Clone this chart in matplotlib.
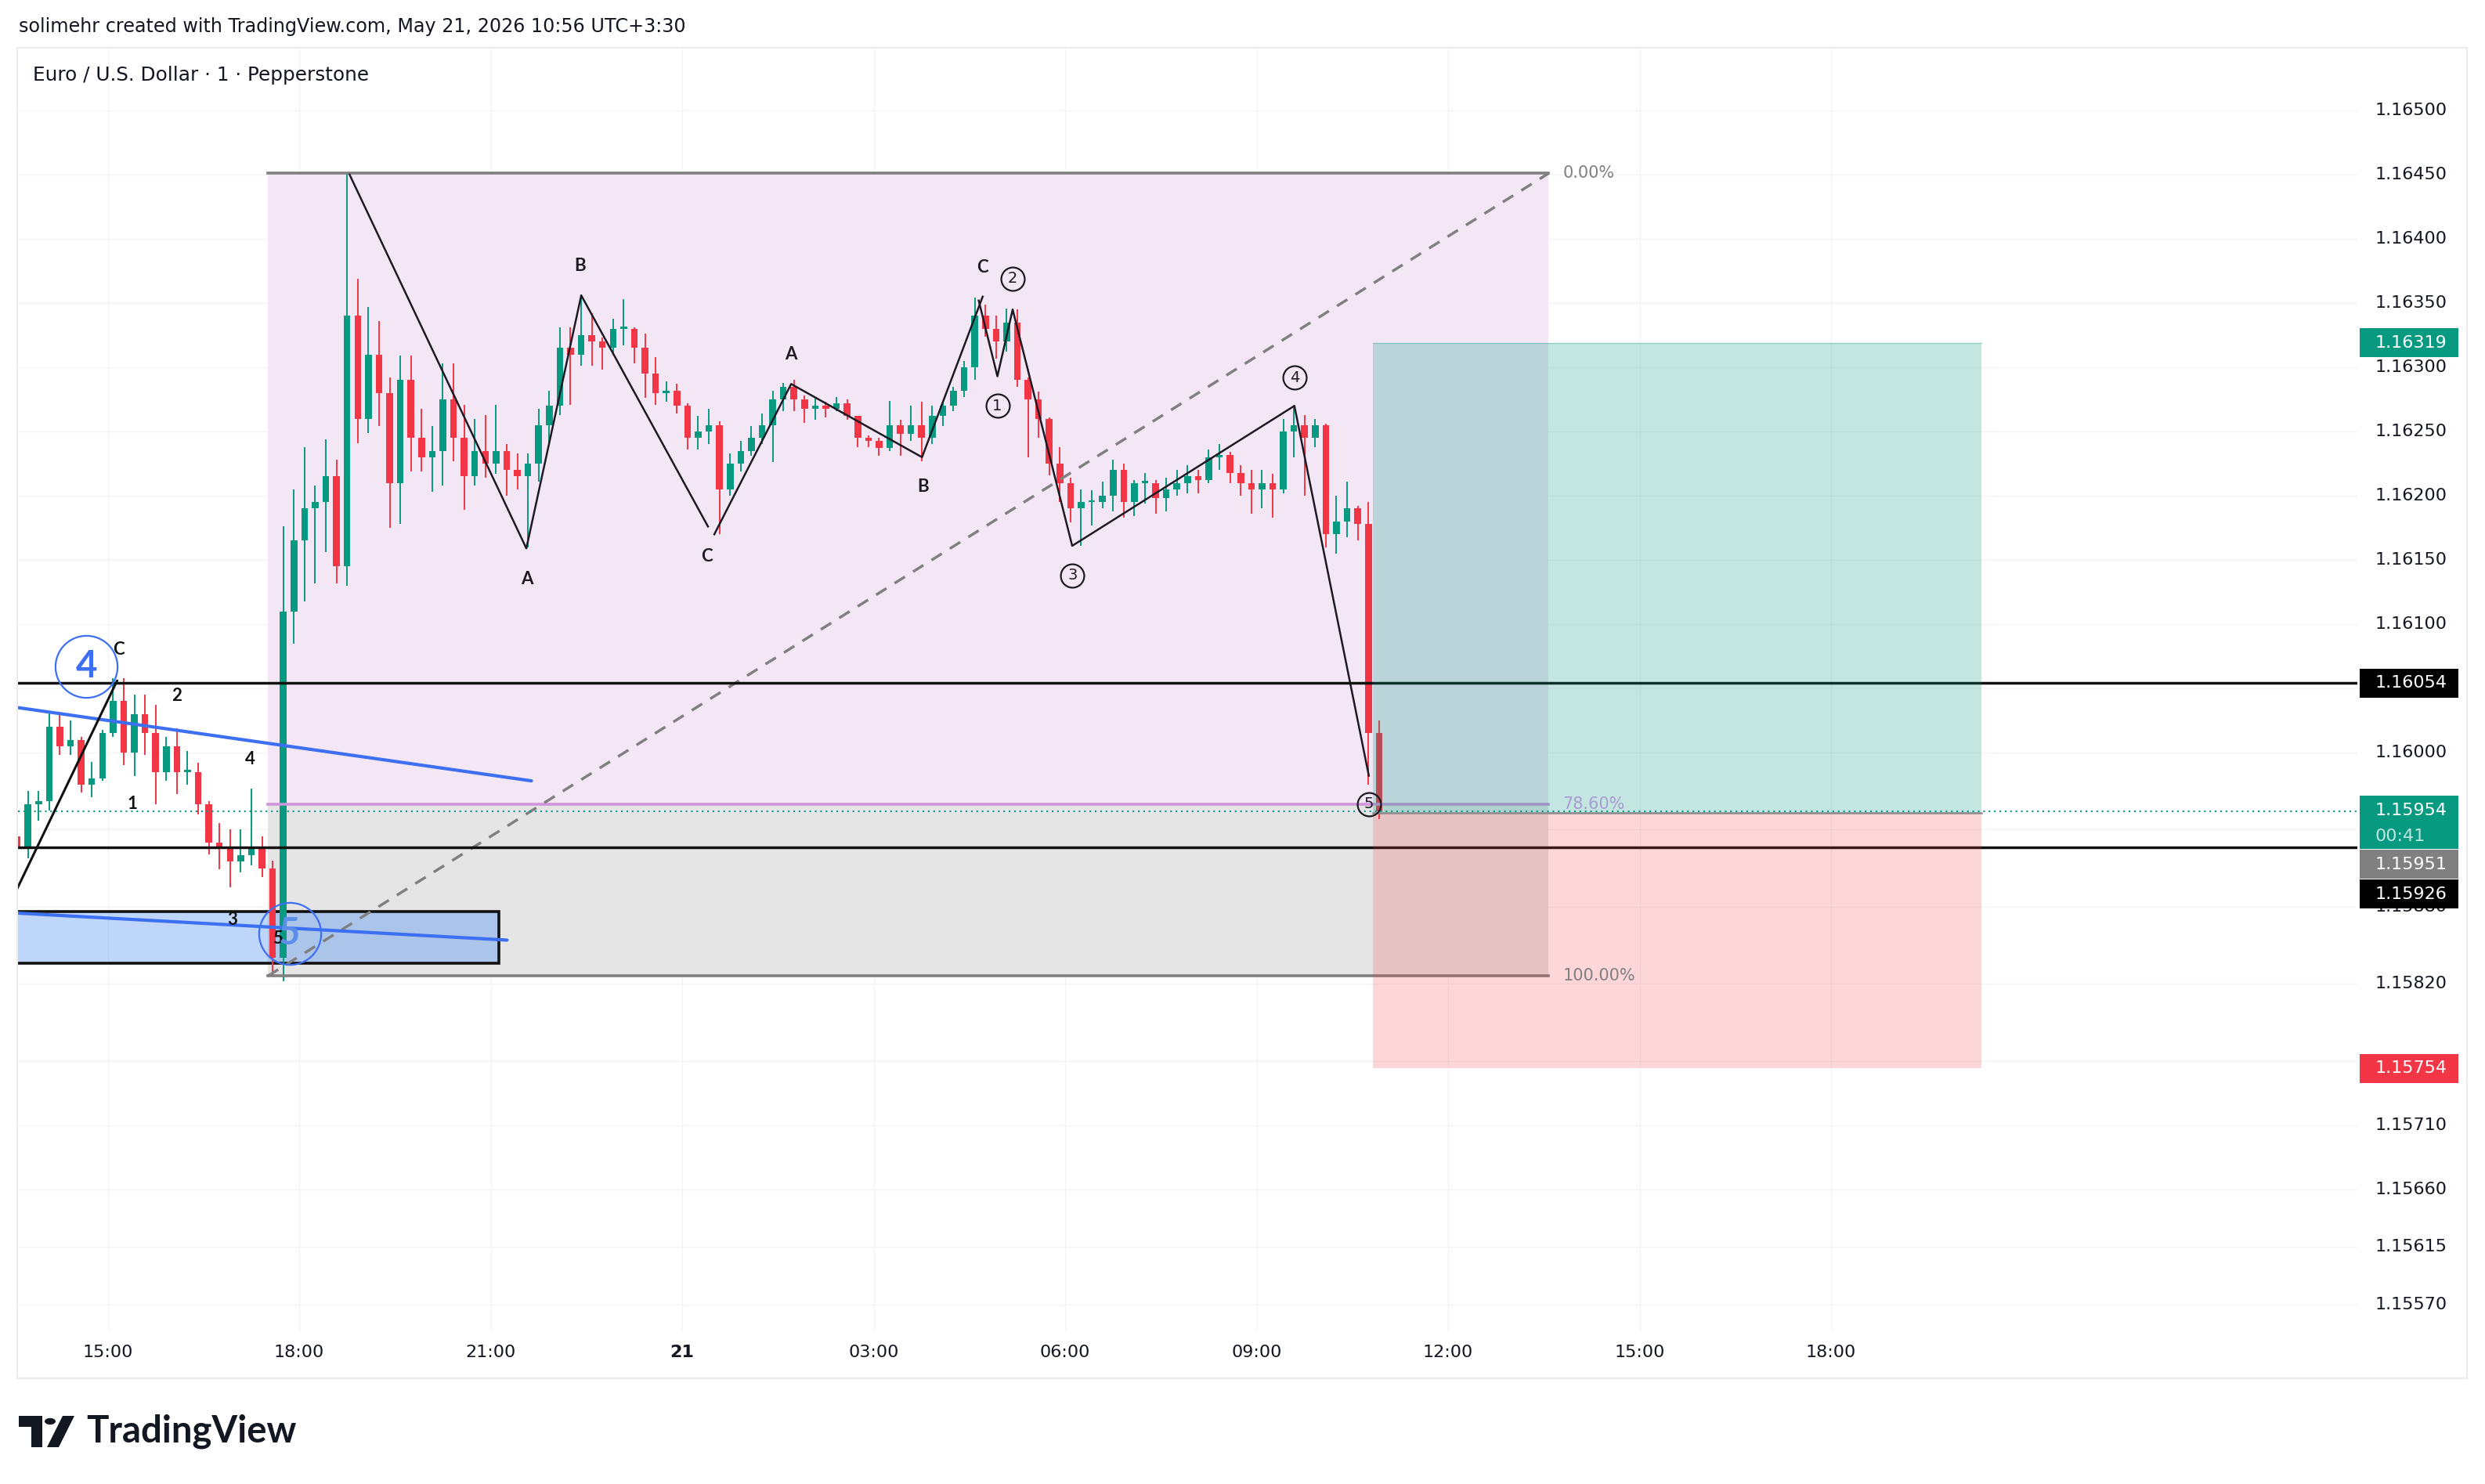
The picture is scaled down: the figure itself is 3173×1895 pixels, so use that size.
import numpy as np
import pandas as pd
import matplotlib
matplotlib.use("Agg")
import matplotlib.pyplot as plt
from matplotlib.patches import Rectangle, Polygon

# ---------------------------------------------------------------
# EURUSD (aggregated to 10 minute candles)

candle_start = "2026-05-20 13:30"
first_open = 1.15935

close = [1.15925, 1.15960, 1.15962, 1.16020, 1.16005, 1.16010, 1.15975, 1.15980, 1.16015, 1.16040,
         1.16000, 1.16030, 1.16015, 1.15985, 1.16005, 1.15985, 1.15985, 1.15960, 1.15930, 1.15925,
         1.15915, 1.15920, 1.15925, 1.15910, 1.15840, 1.16110, 1.16165, 1.16190, 1.16195, 1.16215,
         1.16145, 1.16340, 1.16260, 1.16310, 1.16280, 1.16210, 1.16290, 1.16245, 1.16230, 1.16235,
         1.16275, 1.16245, 1.16215, 1.16235, 1.16225, 1.16235, 1.16220, 1.16215, 1.16225, 1.16255,
         1.16270, 1.16315, 1.16310, 1.16325, 1.16320, 1.16315, 1.16330, 1.16330, 1.16315, 1.16295,
         1.16280, 1.16282, 1.16270, 1.16245, 1.16250, 1.16255, 1.16205, 1.16225, 1.16235, 1.16245,
         1.16255, 1.16275, 1.16285, 1.16275, 1.16268, 1.16270, 1.16268, 1.16272, 1.16262, 1.16245,
         1.16243, 1.16237, 1.16255, 1.16248, 1.16255, 1.16245, 1.16262, 1.16270, 1.16282, 1.16300,
         1.16340, 1.16330, 1.16320, 1.16335, 1.16290, 1.16275, 1.16260, 1.16225, 1.16210, 1.16190,
         1.16195, 1.16195, 1.16200, 1.16220, 1.16195, 1.16210, 1.16210, 1.16198, 1.16205, 1.16210,
         1.16215, 1.16212, 1.16230, 1.16232, 1.16218, 1.16210, 1.16205, 1.16210, 1.16205, 1.16250,
         1.16255, 1.16245, 1.16255, 1.16170, 1.16180, 1.16190, 1.16178, 1.16015, 1.15954]

high = [1.15942, 1.15970, 1.15970, 1.16032, 1.16032, 1.16025, 1.16012, 1.15993, 1.16018, 1.16058,
        1.16058, 1.16045, 1.16045, 1.16037, 1.16012, 1.16019, 1.16001, 1.15992, 1.15962, 1.15945,
        1.15940, 1.15940, 1.15972, 1.15935, 1.15916, 1.16176, 1.16205, 1.16238, 1.16208, 1.16244,
        1.16228, 1.16451, 1.16369, 1.16347, 1.16336, 1.16292, 1.16309, 1.16309, 1.16268, 1.16254,
        1.16303, 1.16303, 1.16271, 1.16260, 1.16263, 1.16271, 1.16240, 1.16233, 1.16233, 1.16268,
        1.16282, 1.16331, 1.16331, 1.16357, 1.16342, 1.16323, 1.16338, 1.16353, 1.16331, 1.16326,
        1.16308, 1.16289, 1.16287, 1.16272, 1.16262, 1.16268, 1.16258, 1.16233, 1.16243, 1.16254,
        1.16264, 1.16282, 1.16288, 1.16290, 1.16278, 1.16277, 1.16273, 1.16277, 1.16275, 1.16261,
        1.16247, 1.16245, 1.16274, 1.16259, 1.16270, 1.16273, 1.16270, 1.16273, 1.16285, 1.16305,
        1.16354, 1.16349, 1.16340, 1.16346, 1.16345, 1.16292, 1.16281, 1.16261, 1.16238, 1.16214,
        1.16205, 1.16204, 1.16211, 1.16228, 1.16225, 1.16212, 1.16218, 1.16212, 1.16214, 1.16220,
        1.16224, 1.16220, 1.16236, 1.16240, 1.16234, 1.16224, 1.16220, 1.16220, 1.16217, 1.16260,
        1.16270, 1.16263, 1.16260, 1.16256, 1.16200, 1.16211, 1.16192, 1.16195, 1.16025]

low = [1.15912, 1.15918, 1.15947, 1.15955, 1.15998, 1.15998, 1.15969, 1.15965, 1.15978, 1.16012,
       1.15990, 1.15982, 1.15998, 1.15960, 1.15978, 1.15968, 1.15975, 1.15952, 1.15921, 1.15909,
       1.15895, 1.15907, 1.15912, 1.15903, 1.15826, 1.15822, 1.16085, 1.16118, 1.16132, 1.16156,
       1.16132, 1.16130, 1.16241, 1.16249, 1.16254, 1.16175, 1.16178, 1.16219, 1.16219, 1.16203,
       1.16208, 1.16227, 1.16189, 1.16208, 1.16214, 1.16217, 1.16200, 1.16205, 1.16160, 1.16211,
       1.16241, 1.16263, 1.16271, 1.16301, 1.16301, 1.16298, 1.16310, 1.16317, 1.16303, 1.16276,
       1.16271, 1.16273, 1.16264, 1.16236, 1.16236, 1.16240, 1.16170, 1.16200, 1.16219, 1.16231,
       1.16240, 1.16226, 1.16266, 1.16266, 1.16257, 1.16259, 1.16261, 1.16266, 1.16259, 1.16238,
       1.16238, 1.16231, 1.16235, 1.16231, 1.16243, 1.16227, 1.16240, 1.16254, 1.16266, 1.16277,
       1.16290, 1.16324, 1.16307, 1.16312, 1.16285, 1.16230, 1.16245, 1.16216, 1.16195, 1.16179,
       1.16161, 1.16177, 1.16190, 1.16188, 1.16183, 1.16184, 1.16194, 1.16186, 1.16188, 1.16200,
       1.16202, 1.16202, 1.16210, 1.16220, 1.16210, 1.16200, 1.16186, 1.16190, 1.16183, 1.16202,
       1.16230, 1.16200, 1.16238, 1.16160, 1.16155, 1.16168, 1.16165, 1.15975, 1.15948]

# levels and drawings (time in hours from 20 May 00:00, price)
res_level = 1.16054
sup_level = 1.15926
last_price = 1.15954
prev_price = 1.15951

fib_t = (17.508, 37.573)
fib_low, fib_high = 1.15826, 1.16451
fib_ratios = [0.0, 0.786, 1.0]
fib_names = ["0.00%", "78.60%", "100.00%"]

pos_t = (34.816, 44.352)
pos_entry, pos_tp, pos_sl = 1.15953, 1.16319, 1.15754

box_t = (12.0, 21.13)
box_p = (1.15836, 1.15876)

blue_line1 = [(13.594, 1.16035), (21.638, 1.15978)]
blue_line2 = [(13.594, 1.15875), (21.255, 1.15854)]
black_leg = [(13.30, 1.15865), (15.147, 1.16056)]

abc_1 = [(18.789, 1.16450), (21.558, 1.16159), (22.418, 1.16356), (24.404, 1.16176)]
abc_2 = [(24.503, 1.16170), (25.707, 1.16287), (27.757, 1.16230), (28.707, 1.16355)]
impulse = [(28.645, 1.16352), (28.938, 1.16293), (29.177, 1.16345), (30.110, 1.16161),
           (33.591, 1.16270), (34.757, 1.15982)]

letter_labels = [(21.571, 1.16135, "A"), (22.403, 1.16379, "B"), (24.389, 1.16153, "C"),
                 (25.707, 1.16310, "A"), (27.771, 1.16207, "B"), (28.707, 1.16378, "C")]
circled_labels = [(28.938, 1.16270, "1"), (29.177, 1.16369, "2"), (30.113, 1.16138, "3"),
                  (33.591, 1.16292, "4"), (34.762, 1.15960, "5")]
small_labels = [(15.174, 1.16080, "C"), (16.078, 1.16044, "2"), (15.382, 1.15960, "1"),
                (17.233, 1.15995, "4"), (16.954, 1.15870, "3"), (17.667, 1.15855, "5")]
big_labels = [(14.665, 1.16067, "4"), (17.848, 1.15859, "5")]

price_ticks = [1.16500, 1.16450, 1.16400, 1.16350, 1.16300, 1.16250, 1.16200, 1.16150, 1.16100,
               1.16000, 1.15880, 1.15820, 1.15710, 1.15660, 1.15615, 1.15570]
covered_ticks = [1.16050, 1.15940, 1.15760]   # only grid lines, labels sit under the tags
time_ticks = [15, 18, 21, 24, 27, 30, 33, 36, 39, 42]
time_labels = ["15:00", "18:00", "21:00", "21", "03:00", "06:00", "09:00", "12:00", "15:00", "18:00"]

header = "solimehr created with TradingView.com, May 21, 2026 10:56 UTC+3:30"
title = "Euro / U.S. Dollar \u00b7 1 \u00b7 Pepperstone"
countdown = "00:41"

# ---------------------------------------------------------------
GREEN = "#089981"
RED = "#F23645"
BLUE = "#3d6ff2"
INK = "#131722"
LINE = "#1e1a24"

W, H = 3173, 1895
fig = plt.figure(figsize=(W / 100, H / 100), dpi=100)
fig.patch.set_facecolor("white")
L, R, T, B = 23, 3010, 61, 1700
ax = fig.add_axes([L / W, 1 - B / H, (R - L) / W, (B - T) / H])
ax.set_xlim(13.594, 50.244)
ax.set_ylim(1.155494, 1.165488)
ax.set_axis_off()

# panel frame
fig.patches.append(Rectangle((22 / W, 1 - 1760 / H), (3150 - 22) / W, (1760 - 61) / H,
                             transform=fig.transFigure, fill=False, ec="#ececec", lw=1.5, zorder=0))

# faint grid
for v in price_ticks + covered_ticks:
    ax.axhline(v, color="#f4f4f4", lw=1, zorder=0)
for t in time_ticks:
    ax.axvline(t, color="#f4f4f4", lw=1, zorder=0)

# fib retracement
lv = [fib_high - r * (fib_high - fib_low) for r in fib_ratios]
ax.fill_between(fib_t, lv[1], lv[0], color="#f3e7f6", lw=0, zorder=1)
ax.fill_between(fib_t, lv[2], lv[1], color="#e5e5e5", lw=0, zorder=1)
ax.plot(fib_t, [lv[0]] * 2, color="#808080", lw=2.6, zorder=4)
ax.plot(fib_t, [lv[1]] * 2, color="#cf95da", lw=2.6, zorder=4)
ax.plot(fib_t, [lv[2]] * 2, color="#808080", lw=2.6, zorder=4)
ax.plot(fib_t, [fib_low, fib_high], color="#808080", lw=2.5, ls=(0, (4.5, 3.5)), zorder=4)
fib_colors = ["#808080", "#a99bd4", "#808080"]
for v, name, c in zip(lv, fib_names, fib_colors):
    ax.text(fib_t[1] + 0.22, v, name, color=c, fontsize=15, va="center", ha="left", zorder=8)

# blue zone box
ax.add_patch(Rectangle((box_t[0], box_p[0]), box_t[1] - box_t[0], box_p[1] - box_p[0],
                       fc=(0.2, 0.5, 0.95, 0.32), ec="#111111", lw=2.6, zorder=2))

# candles
times = pd.date_range(candle_start, periods=len(close), freq="10min")
hrs = np.asarray((times - pd.Timestamp("2026-05-20")).total_seconds() / 3600 + 5 / 60)
opens = [first_open] + close[:-1]
for t, o, h, l, c in zip(hrs, opens, high, low, close):
    col = GREEN if c >= o else RED
    ax.vlines(t, min(l, o, c), max(h, o, c), color=col, lw=1.4, zorder=3)
    body = max(abs(c - o), 0.000015)
    ax.bar(t, body, bottom=min(o, c), width=0.105, color=col, lw=0, zorder=3)

# trend lines
for seg, col, lw in [(blue_line1, BLUE, 3.0), (blue_line2, BLUE, 3.0), (black_leg, "#111111", 2.2)]:
    ax.plot([p[0] for p in seg], [p[1] for p in seg], color=col, lw=lw, zorder=5,
            solid_capstyle="round")

# elliott waves
for pts in (abc_1, abc_2, impulse):
    ax.plot([p[0] for p in pts], [p[1] for p in pts], color=LINE, lw=1.8, zorder=5)
for t, p, s in letter_labels:
    ax.text(t, p, s, fontsize=16, fontweight="bold", family=["Lato", "DejaVu Sans"],
            color=LINE, ha="center", va="center", zorder=8)
for t, p, s in small_labels:
    ax.text(t, p, s, fontsize=16, fontweight="bold", family=["Lato", "DejaVu Sans"],
            color="#111111", ha="center", va="center", zorder=8)
for t, p, s in circled_labels:
    ax.plot(t, p, "o", ms=21.5, mfc="none", mec=LINE, mew=1.6, zorder=8)
    ax.text(t, p, s, fontsize=14, color=LINE, ha="center", va="center", zorder=8)
for (t, p, s), tc in zip(big_labels, [BLUE, "#5b8ee8"]):
    ax.plot(t, p, "o", ms=57, mfc="none", mec=BLUE, mew=1.6, zorder=8)
    ax.text(t, p, s, fontsize=34, fontweight="bold", family=["Lato", "DejaVu Sans"],
            color=tc, ha="center", va="center", zorder=8)

# horizontal levels
ax.axhline(res_level, color="#111111", lw=2.5, zorder=6)
ax.axhline(sup_level, color="#111111", lw=2.5, zorder=6)
ax.axhline(last_price, color=GREEN, lw=1.5, ls=(0, (1, 2.3)), zorder=6)

# long position
ax.add_patch(Rectangle((pos_t[0], pos_entry), pos_t[1] - pos_t[0], pos_tp - pos_entry,
                       fc=GREEN, alpha=0.24, lw=0, zorder=7))
ax.add_patch(Rectangle((pos_t[0], pos_sl), pos_t[1] - pos_t[0], pos_entry - pos_sl,
                       fc=RED, alpha=0.2, lw=0, zorder=7))
ax.plot(pos_t, [pos_entry] * 2, color="#8a8a8a", lw=1.8, zorder=7)
ax.plot(pos_t, [pos_tp] * 2, color=GREEN, lw=1.0, alpha=0.3, zorder=7)

# ---------------------------------------------------------------
# price scale


def fy(p):
    return ax.transData.transform((13.6, p))[1] / H


for v in price_ticks:
    fig.text(3033 / W, fy(v), f"{v:.5f}", fontsize=16, color=INK, va="center", ha="left", zorder=1)

BX, BW, BH = 3013, 126, 37


def tag(top_frac, height_px, fc, lines):
    fig.patches.append(Rectangle((BX / W, top_frac - height_px / H), BW / W, height_px / H,
                                 transform=fig.transFigure, fc=fc, ec="none", zorder=2))
    for i, (txt, tc) in enumerate(lines):
        fig.text(3033 / W, top_frac - (18.5 + 33 * i) / H, txt, fontsize=16, color=tc,
                 va="center", ha="left", zorder=3)


tag(fy(pos_tp) + 18.5 / H, BH, GREEN, [(f"{pos_tp:.5f}", "white")])
tag(fy(res_level) + 18.5 / H, BH, "#000000", [(f"{res_level:.5f}", "white")])
top = fy(last_price) + 20 / H
tag(top, 68, GREEN, [(f"{last_price:.5f}", "white"), (countdown, "#bfe6de")])
tag(top - 69 / H, BH, "#808080", [(f"{prev_price:.5f}", "white")])
tag(top - 107 / H, BH, "#000000", [(f"{sup_level:.5f}", "white")])
tag(fy(pos_sl) + 18.5 / H, BH, RED, [(f"{pos_sl:.5f}", "white")])

# time scale
for t, s in zip(time_ticks, time_labels):
    ax.text(t, -0.0165, s, transform=ax.get_xaxis_transform(), fontsize=16, color=INK,
            ha="center", va="center", fontweight="bold" if s == "21" else "normal")

# header, title, logo
fig.text(24 / W, 1 - 34 / H, header, fontsize=17.2, color=INK, va="center", ha="left")
fig.text(42 / W, 1 - 96 / H, title, fontsize=17.8, color=INK, va="center", ha="left")

logo_shapes = [[(24, 1808), (54, 1808), (54, 1848), (40, 1848), (40, 1822), (24, 1822)],
               [(60, 1848), (75, 1848), (95, 1808), (80, 1808)]]
for xy in logo_shapes:
    fig.patches.append(Polygon([(x / W, 1 - y / H) for x, y in xy], closed=True,
                               transform=fig.transFigure, fc=INK, ec="none"))
fig.patches.append(plt.Circle((64 / W, 1 - 1815 / H), 7 / W, transform=fig.transFigure,
                              fc=INK, ec="none"))
fig.text(110 / W, 1 - 1828 / H, "TradingView", fontsize=34, fontweight="bold",
         family=["Lato", "DejaVu Sans"], color=INK, va="center", ha="left")

fig.savefig("out.png", dpi=100, facecolor="white")
